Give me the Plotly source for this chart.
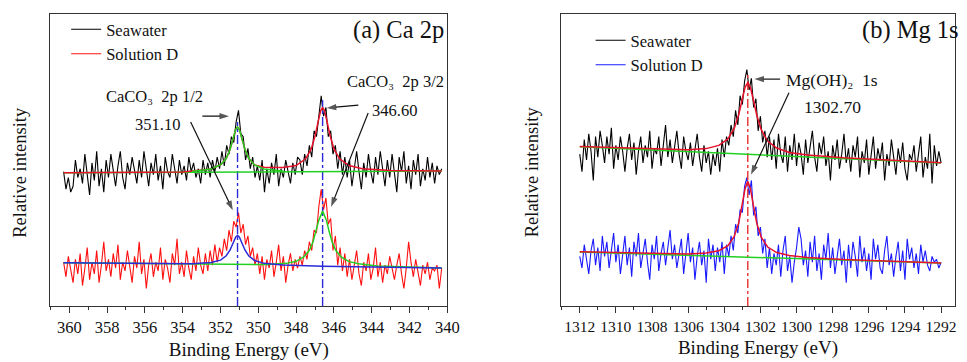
import numpy as np
import plotly.graph_objects as go

# ---------------- data: panel (a) Ca 2p ----------------
ca_start, ca_stop, ca_n = 360.3, 340.3, 161
ca_energy = np.linspace(ca_start, ca_stop, ca_n)

ca_seawater = [
    46, 40, 44, 39, 41, 50, 44, 47, 42, 52, 45, 38, 49, 43, 53, 41, 47, 39, 50, 44,
    52, 46, 41, 48, 53, 44, 40, 49, 45, 51, 47, 42, 50, 44, 53, 46, 41, 49, 45, 52,
    43, 48, 40, 51, 46, 44, 52, 47, 42, 50, 45, 48, 43, 51, 46, 49, 44, 47, 42, 50,
    45, 49, 44, 50, 46, 51, 47, 53, 48, 55, 52, 58, 56, 63, 67, 59, 58, 50, 54, 47,
    51, 44, 48, 43, 50, 39, 47, 42, 49, 45, 52, 41, 47, 44, 50, 46, 42, 49, 45, 51,
    50, 45, 52, 48, 55, 51, 60, 58, 66, 72, 65, 68, 58, 60, 52, 55, 47, 53, 45, 51,
    44, 50, 41, 48, 53, 46, 40, 49, 44, 52, 46, 42, 51, 45, 53, 47, 41, 50, 44, 52,
    45, 39, 51, 46, 53, 42, 48, 40, 50, 45, 52, 41, 47, 43, 51, 44, 49, 42, 48, 45, 47]

ca_solution_d = [
    15, 10, 17, 12, 8, 16, 11, 18, 7, 13, 20, 9, 15, 11, 19, 8, 14, 22, 12, 16,
    10, 18, 13, 21, 9, 15, 12, 19, 14, 8, 17, 13, 22, 11, 16, 6, 14, 18, 10, 15,
    12, 20, 9, 16, 13, 8, 18, 14, 23, 11, 15, 10, 19, 13, 9, 17, 12, 20, 14, 11,
    18, 12, 19, 14, 21, 15, 20, 17, 23, 19, 26, 22, 29, 27, 32, 25, 28, 21, 24, 17,
    20, 14, 18, 11, 17, 9, 16, 13, 19, 10, 15, 21, 12, 17, 8, 14, 18, 12, 16, 13,
    17, 14, 19, 16, 22, 19, 26, 25, 34, 40, 33, 37, 28, 30, 19, 24, 14, 20, 12, 18,
    10, 16, 9, 14, 19, 11, 7, 15, 12, 18, 9, 13, 20, 10, 15, 8, 14, 11, 17, 13,
    9, 14, 18, 11, 6, 13, 22, 15, 10, 16, 12, 7, 14, 11, 15, 9, 13, 12, 14, 6, 13]

# fitted curves
ca_sw_base_x = [360.3, 340.3]
ca_sw_base_y = [45.6, 46.2]
ca_sw_p1_x = [353.5, 352.5, 352.0, 351.7, 351.5, 351.35, 351.2, 351.1, 351.0,
              350.85, 350.7, 350.5, 350.2, 349.7, 348.7]
ca_sw_p1_y = [46.1, 46.9, 48.3, 50.5, 53.5, 56.9, 60.4, 61.3, 60.4,
              56.9, 53.5, 50.5, 48.3, 46.9, 46.2]
ca_sw_env_x = [360.3, 354.0, 352.5, 352.0, 351.7, 351.5, 351.35, 351.2, 351.1, 351.0,
               350.85, 350.7, 350.5, 350.2, 349.7, 348.7, 348.0, 347.5, 347.2, 347.0,
               346.85, 346.7, 346.6, 346.5, 346.35, 346.2, 346.0, 345.7, 345.2, 344.5,
               343.0, 340.3]
ca_sw_env_y = [45.6, 45.9, 46.9, 48.3, 50.5, 53.5, 56.9, 60.4, 61.3, 60.4,
               56.9, 53.5, 50.5, 48.3, 47.5, 47.4, 48.1, 50.4, 53.8, 58.2,
               62.7, 66.9, 67.9, 66.9, 62.7, 58.2, 53.8, 50.4, 48.1, 47.0,
               46.4, 46.2]
ca_sd_p1_x = [360.3, 355.0, 353.5, 352.5, 352.0, 351.7, 351.5, 351.35, 351.2, 351.1,
              351.0, 350.85, 350.7, 350.5, 350.2, 349.7, 348.7, 346.6, 340.3]
ca_sd_p1_y = [14.8, 14.5, 14.5, 14.9, 15.7, 17.2, 19.1, 21.3, 23.6, 24.2,
              23.6, 21.3, 19.1, 17.1, 15.6, 14.6, 14.0, 13.6, 13.0]
ca_sd_p2_x = [360.3, 352.0, 349.5, 348.5, 348.0, 347.6, 347.3, 347.1, 346.95, 346.8,
              346.6, 346.4, 346.25, 346.1, 345.9, 345.6, 345.2, 344.7, 343.7, 340.3]
ca_sd_p2_y = [14.8, 14.2, 14.2, 14.6, 15.3, 16.8, 19.1, 22.1, 25.4, 29.4,
              32.5, 29.4, 25.4, 22.0, 19.0, 16.7, 15.2, 14.5, 13.7, 13.0]
ca_centers = [351.1, 346.6]
ca_center_tops = [63, 70.5]

# ---------------- data: panel (b) Mg 1s ----------------
mg_start, mg_stop, mg_n = 1312.0, 1292.0, 161
mg_energy = np.linspace(mg_start, mg_stop, mg_n)

mg_seawater = [
    52, 46, 57, 50, 59, 53, 43, 58, 51, 60, 55, 49, 58, 52, 61, 47, 55, 50, 58, 53,
    46, 54, 59, 50, 56, 45, 53, 58, 49, 55, 51, 60, 47, 54, 52, 58, 48, 56, 62, 51,
    57, 49, 55, 60, 52, 47, 58, 53, 50, 56, 48, 54, 59, 51, 46, 55, 49, 53, 45, 52,
    48, 54, 46, 57, 51, 58, 55, 62, 58, 67, 62, 72, 69, 77, 81, 74, 78, 68, 71, 60,
    65, 56, 60, 51, 58, 50, 57, 47, 59, 52, 49, 58, 46, 55, 50, 59, 48, 56, 52, 45,
    57, 49, 54, 60, 51, 46, 56, 52, 58, 48, 53, 43, 55, 50, 57, 47, 52, 59, 49, 54,
    46, 55, 51, 58, 44, 53, 49, 57, 45, 52, 58, 47, 54, 50, 56, 43, 52, 48, 57, 51,
    45, 54, 49, 56, 47, 43, 52, 50, 55, 46, 53, 58, 44, 51, 47, 59, 42, 55, 48, 53, 49]

mg_solution_d = [
    17, 13, 21, 15, 11, 19, 23, 14, 20, 12, 24, 17, 22, 13, 19, 25, 15, 21, 11, 18,
    24, 14, 20, 10, 22, 17, 25, 13, 19, 23, 15, 9, 21, 16, 24, 12, 18, 22, 14, 20,
    26, 16, 21, 13, 19, 23, 11, 18, 25, 15, 20, 9, 17, 22, 14, 19, 8, 23, 16, 21,
    12, 20, 15, 22, 11, 21, 17, 24, 19, 28, 25, 33, 32, 41, 44, 38, 43, 31, 34, 24,
    27, 18, 23, 13, 20, 11, 18, 14, 21, 10, 19, 24, 12, 17, 8, 15, 20, 27, 23, 14,
    19, 10, 22, 15, 24, 12, 18, 9, 21, 16, 25, 13, 20, 11, 17, 23, 14, 19, 8, 21,
    13, 22, 17, 10, 24, 15, 20, 12, 18, 9, 23, 16, 21, 13, 11, 19, 24, 14, 18, 10,
    17, 22, 12, 19, 9, 23, 16, 20, 13, 18, 11, 21, 15, 19, 14, 12, 17, 15, 16, 13, 15]

mg_fit_x = [1312, 1308, 1306, 1305, 1304.3, 1303.8, 1303.45, 1303.2, 1303.0, 1302.85,
            1302.7, 1302.55, 1302.4, 1302.2, 1301.95, 1301.6, 1301.1, 1300.4, 1299.4,
            1297.4, 1292]
mg_sw_fit_y = [54.6, 53.7, 53.5, 53.9, 55.0, 57.2, 60.8, 65.6, 70.9, 74.9,
               76.5, 74.8, 70.8, 65.3, 60.3, 56.5, 54.1, 52.6, 51.7, 50.75, 49.1]
mg_sd_fit_y = [18.56, 17.93, 17.83, 18.13, 18.95, 20.66, 23.8, 28.5, 34.8, 40.2,
               42.7, 40.1, 34.7, 28.3, 23.5, 20.2, 18.3, 17.3, 16.6, 15.9, 14.76]
mg_base_x = [1312, 1292]
mg_sw_base_y = [54.5, 49.0]
mg_sd_base_y = [18.5, 14.7]
mg_center = 1302.7
mg_center_top = 79.8

# pointer arrows: (tail x, tail y, head x, head y)
ca_arrows = [(352.96, 65.0, 351.55, 65.0),
             (353.58, 63.0, 351.35, 32.8),
             (344.71, 68.8, 346.38, 67.8),
             (344.19, 66.1, 346.15, 34.0)]
mg_arrows = [(1300.91, 77.7, 1302.33, 77.7),
             (1300.42, 73.0, 1302.52, 45.0)]

# ---------------- figure ----------------
FONT = "Liberation Serif, Times New Roman, DejaVu Serif, serif"
GREEN = "#22d022"
RED = "#ff1010"
BLUE = "#1a1aff"
FIT_RED = "#e8102a"
FIT_BLUE = "#2a2ad8"

fig = go.Figure()

def add(x, y, color, width, xa, ya, name=None, legend=None, dash=None):
    fig.add_trace(go.Scatter(
        x=x, y=y, mode="lines", name=name, showlegend=name is not None,
        legend=legend, line=dict(color=color, width=width, dash=dash),
        xaxis=xa, yaxis=ya, hoverinfo="skip"))

def add_arrow(a, xa, ya):
    x0, y0, x1, y1 = a
    fig.add_trace(go.Scatter(
        x=[x0, x1], y=[y0, y1], mode="lines+markers", showlegend=False,
        line=dict(color="#111111", width=1.2),
        marker=dict(symbol="arrow", angleref="previous", size=[0, 10],
                    color="#111111", line=dict(width=0)),
        xaxis=xa, yaxis=ya, hoverinfo="skip", cliponaxis=False))

# panel a
add(ca_energy, ca_seawater, "#000000", 1.1, "x", "y", "Seawater", "legend")
add(ca_energy, ca_solution_d, RED, 1.1, "x", "y", "Solution D", "legend")
for c, t in zip(ca_centers, ca_center_tops):
    add([c, c], [0, t], "#2a2ad8", 1.4, "x", "y", dash="dashdot")
add(ca_sw_base_x, ca_sw_base_y, GREEN, 1.5, "x", "y")
add(ca_sw_env_x, ca_sw_env_y, FIT_RED, 1.5, "x", "y")
add(ca_sw_p1_x, ca_sw_p1_y, GREEN, 1.5, "x", "y")
add(ca_sd_p2_x, ca_sd_p2_y, GREEN, 1.5, "x", "y")
add(ca_sd_p1_x, ca_sd_p1_y, FIT_BLUE, 1.5, "x", "y")
for a in ca_arrows:
    add_arrow(a, "x", "y")

# panel b
add(mg_energy, mg_seawater, "#000000", 1.1, "x2", "y2", "Seawater", "legend2")
add(mg_energy, mg_solution_d, BLUE, 1.1, "x2", "y2", "Solution D", "legend2")
add([mg_center, mg_center], [0, mg_center_top], "#e83030", 1.4, "x2", "y2", dash="dashdot")
add(mg_base_x, mg_sw_base_y, GREEN, 1.5, "x2", "y2")
add(mg_base_x, mg_sd_base_y, GREEN, 1.5, "x2", "y2")
add(mg_fit_x, mg_sw_fit_y, FIT_RED, 1.5, "x2", "y2")
add(mg_fit_x, mg_sd_fit_y, FIT_RED, 1.5, "x2", "y2")
for a in mg_arrows:
    add_arrow(a, "x2", "y2")

W, H = 967, 362
ydom = [56 / H, 348 / H]
axis_line = dict(showline=True, linecolor="#333333", linewidth=1.2, mirror=True,
                 showgrid=False, zeroline=False)

fig.update_layout(
    width=W, height=H, margin=dict(l=0, r=0, t=0, b=0),
    paper_bgcolor="white", plot_bgcolor="white",
    font=dict(family=FONT, color="#111111"),
    xaxis=dict(domain=[51 / W, 453 / W], range=[361.0, 340.0], anchor="y",
               tickmode="array", tickvals=list(range(360, 339, -2)),
               ticks="outside", ticklen=6, tickwidth=1.1, tickcolor="#333333",
               minor=dict(ticks="outside", ticklen=3, dtick=1, tickcolor="#333333"),
               tickfont=dict(size=16.5, family=FONT),
               title=dict(text="Binding Energy (eV)", font=dict(size=19, family=FONT), standoff=6),
               **axis_line),
    yaxis=dict(domain=ydom, range=[0, 100], anchor="x", showticklabels=False, ticks="",
               **axis_line),
    xaxis2=dict(domain=[568 / W, 1.0], range=[1313.04, 1291.23], anchor="y2",
                tickmode="array", tickvals=list(range(1312, 1291, -2)),
                ticks="outside", ticklen=6, tickwidth=1.1, tickcolor="#333333",
                minor=dict(ticks="outside", ticklen=3, dtick=1, tickcolor="#333333"),
                tickfont=dict(size=15.5, family=FONT),
                title=dict(text="Binding Energy (eV)", font=dict(size=19, family=FONT), standoff=6),
                **axis_line),
    yaxis2=dict(domain=ydom, range=[0, 100], anchor="x2", showticklabels=False, ticks="",
                **axis_line),
    legend=dict(x=67 / W, y=1 - 12 / H, xanchor="left", yanchor="top",
                bgcolor="rgba(0,0,0,0)", font=dict(size=16.5, family=FONT),
                itemwidth=30, tracegroupgap=0),
    legend2=dict(x=598 / W, y=1 - 23 / H, xanchor="left", yanchor="top",
                 bgcolor="rgba(0,0,0,0)", font=dict(size=16.5, family=FONT),
                 itemwidth=30, tracegroupgap=0),
)

ann = []
def text(x, y, s, size, xanchor="center", angle=0):
    ann.append(dict(x=x, y=y, xref="paper", yref="paper", text=s, showarrow=False,
                    font=dict(size=size, family=FONT, color="#111111"),
                    xanchor=xanchor, yanchor="middle", textangle=angle))

# y-axis titles
text(20 / W, 1 - 172 / H, "Relative intensity", 18.5, angle=-90)
text(539 / W, 1 - 172 / H, "Relative intensity", 18.5, angle=-90)

# panel titles
text(452 / W, 1 - 30 / H, "(a) Ca 2p", 24.5, "right")
text(871 / W, 1 - 30 / H, "(b) Mg 1s", 24.5, "left")

# labels panel a
text(156 / W, 1 - 97 / H, "CaCO\u2083\u00a0 2p 1/2", 16.5)
text(159 / W, 1 - 124 / H, "351.10", 16.5)
text(400 / W, 1 - 82 / H, "CaCO\u2083\u00a0 2p 3/2", 16.5)
text(399 / W, 1 - 110 / H, "346.60", 16.5)

# labels panel b
text(842 / W, 1 - 80 / H, "Mg(OH)\u2082\u00a0 1s", 17.5)
text(843 / W, 1 - 107 / H, "1302.70", 17.5)

fig.update_layout(annotations=ann)
fig.write_html("out.html")
